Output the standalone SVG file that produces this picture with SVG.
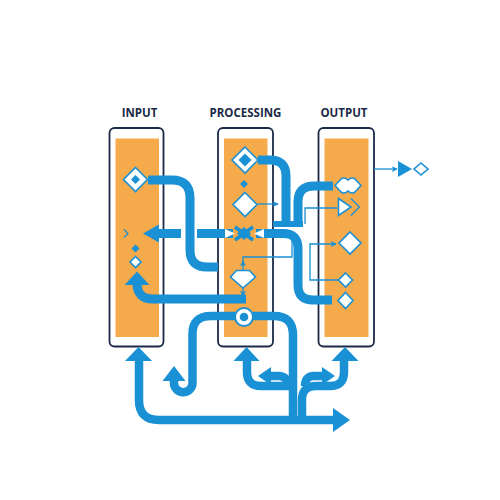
<svg xmlns="http://www.w3.org/2000/svg" width="500" height="500" viewBox="0 0 500 500">
<defs>
<style>
.col{fill:#fff;stroke:#1b2a47;stroke-width:1.8}
.inner{fill:#f5aa4b}
.lbl{font-family:"Open Sans","Liberation Sans",sans-serif;font-weight:700;font-size:11.5px;fill:#1b2a47;text-anchor:middle}
.thick{fill:none;stroke:#1a90d5;stroke-width:9}
.thick2{fill:none;stroke:#1a90d5;stroke-width:8.5}
.thin{fill:none;stroke:#1a90d5;stroke-width:1.3}
.blue{fill:#1a90d5}
.ws{fill:#fff;stroke:#1a90d5;stroke-width:1.6}
</style>
<marker id="ah" viewBox="0 0 8 8" refX="7" refY="4" markerWidth="6" markerHeight="6" orient="auto" markerUnits="userSpaceOnUse">
<path d="M0,0 L8,4 L0,8 L2,4 z" fill="#1a90d5"/>
</marker>
</defs>
<rect width="500" height="500" fill="#fff"/>

<g id="labels">
<text class="lbl" x="139.5" y="117">INPUT</text>
<text class="lbl" x="245.5" y="117">PROCESSING</text>
<text class="lbl" x="344" y="117">OUTPUT</text>
</g>

<g id="col-input"><rect class="col" x="109.5" y="128" width="54" height="218.5" rx="5"/><rect class="inner" x="115.5" y="138.5" width="43.5" height="198.5"/></g>
<g id="col-processing"><rect class="col" x="218" y="128" width="55" height="218.5" rx="5"/><rect class="inner" x="224" y="138.5" width="43.5" height="198.5"/></g>
<g id="col-output"><rect class="col" x="318.5" y="128" width="55.5" height="218.5" rx="5"/><rect class="inner" x="324.5" y="138.5" width="44" height="198.5"/></g>

<g id="connectors">
<!-- left arrow -->
<path class="thick" d="M158,233.5 H181"/>
<polygon class="blue" points="143,233.5 159,224.5 159,242.5"/>
<path class="thick" d="M197,233.5 H233"/>
<!-- input diamond to processing -->
<path class="thick" d="M148,180 H172 Q190,180 190,198 V250 Q190,267 207,267 H218"/>
<!-- processing top diamond down -->
<path class="thick" d="M258,160 H270 Q286,160 286,176 V226"/>
<!-- output cloud down -->
<path class="thick" d="M333,186 H314 Q298,186 298,202 V226"/>
<rect class="blue" x="273" y="221" width="30" height="6"/>
<!-- X bar to output bottom diamond -->
<path class="thick" d="M256,233.5 H283 Q298,233.5 298,248.5 V285 Q298,300 313,300 H332"/>
<!-- gem bar to input -->
<path class="thick" d="M246,299 H153 Q137,299 137,283"/>
<polygon class="blue" points="124.5,285 137,271.5 149.5,285"/>
<!-- circle left U -->
<path class="thick2" d="M235,316 H211 Q192.5,316 192.5,334 V383 A9.25,9.25 0 0 1 174,383 V379"/>
<polygon class="blue" points="162.5,381 174,366 185.5,381"/>
<!-- trunk -->
<path class="thick2" d="M253,316 H274 Q293,316 293,335 V420"/>
<!-- bottom big arrow -->
<path class="thick2" d="M139,359 V400 Q139,420 159,420 H335"/>
<polygon class="blue" points="125,361 138.5,347 152,361"/>
<polygon class="blue" points="333,408 350,420 333,432"/>
<!-- processing branch -->
<path class="thick2" d="M247,359 V372 Q247,386 261,386 H293"/>
<polygon class="blue" points="233.5,361 246.5,347 259.5,361"/>
<!-- small left arrow -->
<path class="thick2" d="M269,376 H278 Q288,376 288,386"/>
<polygon class="blue" points="258,376 271,367 271,385"/>
<!-- output branch -->
<path class="thick2" d="M344,359 V372 Q344,386 330,386 H316 Q302,386 302,400 V420"/>
<polygon class="blue" points="331.5,361 345,347 358.5,361"/>
<!-- small right arrow -->
<path class="thick2" d="M323,376 H314 Q305,376 305,386"/>
<polygon class="blue" points="335,376 322,367 322,385"/>
<!-- thin connectors -->
<path class="thin" d="M258,204 H278" marker-end="url(#ah)"/>
<path class="thin" d="M305,224 V208 H337"/>
<path class="thin" d="M292,238 V257 H243 V262"/>
<path class="thin" d="M243,270 V261" marker-end="url(#ah)"/>
<path class="thin" d="M243,288 V296" marker-end="url(#ah)"/>
<path class="thin" d="M338,280 H310 V244 H336" marker-end="url(#ah)"/>
<path class="thin" d="M374,169 H397" marker-end="url(#ah)"/>
</g>

<g id="n-input-diamond"><polygon class="ws" stroke-width="2" points="135.5,167.5 147.5,179.5 135.5,191.5 123.5,179.5"/><polygon class="blue" points="135.5,175 140,179.5 135.5,184 131,179.5"/></g>
<g id="n-input-chevron"><polyline class="thin" stroke-width="1.6" points="124,229.5 128,233.5 124,237.5"/></g>
<g id="n-input-dot"><polygon class="blue" points="135.5,244.5 139.5,248.5 135.5,252.5 131.5,248.5"/></g>
<g id="n-input-small"><polygon class="ws" points="135.5,256.5 141,262 135.5,267.5 130,262"/></g>

<g id="n-proc-diamond"><polygon class="ws" stroke-width="2.4" points="245,147 258,160 245,173 232,160"/><polygon class="blue" points="245,153.5 251.5,160 245,166.5 238.5,160"/></g>
<g id="n-proc-dot"><polygon class="blue" points="244,180 248,184 244,188 240,184"/></g>
<g id="n-proc-diamond2"><polygon class="ws" stroke-width="1.8" points="245,192.5 257,204.5 245,216.5 233,204.5"/></g>
<g id="n-proc-x">
<polygon fill="#fff" points="225,229 235,233.5 225,238"/>
<polygon fill="#fff" points="264,229 254,233.5 264,238"/>
<path d="M235,227 L253,240 M235,240 L253,227" stroke="#1a90d5" stroke-width="3.5"/>
<polygon class="blue" points="244,227 251,233.5 244,240 237,233.5"/>
</g>
<g id="n-proc-gem"><polygon class="ws" points="236.5,270.5 249.5,270.5 255.5,277 243,288 230.5,277"/></g>
<g id="n-proc-circle"><circle cx="244" cy="317" r="9" fill="#fff" stroke="#1a90d5" stroke-width="2"/><circle class="blue" cx="244" cy="317" r="4.3"/></g>

<g id="n-out-cloud"><path class="ws" d="M335,185.5 L341,179 Q344.5,176.5 348,180 Q351.5,176.5 355,179 L361,185.5 L355,192 Q351.5,194.5 348,191 Q344.5,194.5 341,192 Z"/></g>
<g id="n-out-play"><polygon class="ws" points="338.5,198.5 351,207 338.5,215.5"/><polyline class="thin" stroke-width="1.6" points="351,198.5 359.5,207 351,215.5"/></g>
<g id="n-out-diamond"><polygon class="ws" stroke-width="1.8" points="350,232 361,243 350,254 339,243"/></g>
<g id="n-out-small1"><polygon class="ws" points="345.5,273 352.5,280 345.5,287 338.5,280"/></g>
<g id="n-out-small2"><polygon class="ws" points="345.5,292.5 353,300.5 345.5,308.5 338,300.5"/></g>
<g id="n-out-ext"><polygon class="blue" points="398,161 412,169 398,177"/><polygon class="ws" stroke-width="1.4" points="421,163 428,169 421,175 414,169"/></g>
</svg>
